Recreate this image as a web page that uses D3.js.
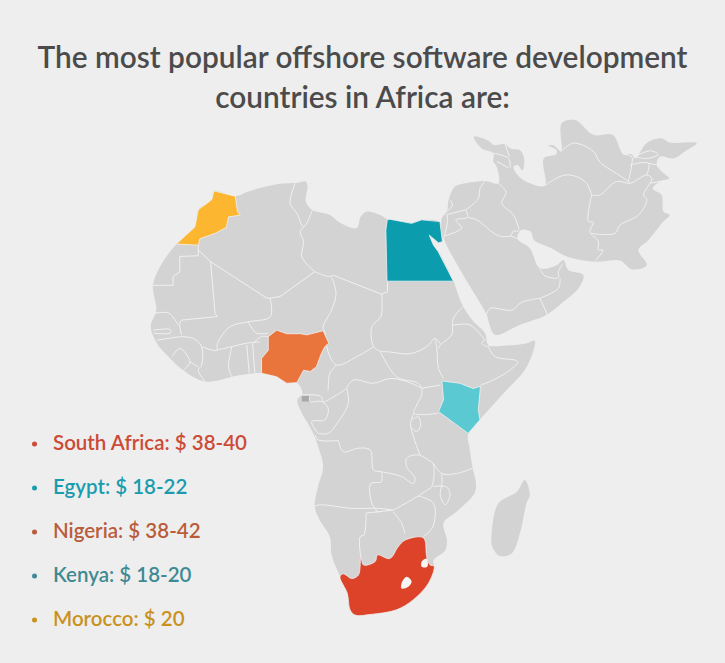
<!DOCTYPE html>
<html>
<head>
<meta charset="utf-8">
<script src="https://cdn.jsdelivr.net/npm/d3@7"></script>
<style>
html, body { margin: 0; padding: 0; background: #eeeeee; }
svg { display: block; }
</style>
</head>
<body>
<div id="chart"></div>
<script>
// outlines are [lon, lat]

const africaCoast = [[-5.9,37.1],[-2.1,36.2],[0.5,37.1],[5.9,38.3],[8.9,38.5],[10.5,38.7],[10.8,37.8],[10.5,35.3],[11.6,33.9],[14.8,33],[16.6,31.7],[19.6,30.8],[20.3,32.7],[21.4,33.6],[23.8,33],[25.2,32.2],[29.4,31.5],[31.2,32.1],[34.4,31.8],[34.8,28.5],[34.2,28.3],[32.55,29.6],[33.3,27.9],[34.15,26.8],[36.85,21.9],[37.7,19.5],[38.6,17.5],[40.4,15],[42.5,13],[43.1,11],[46.4,10.9],[50,11.3],[51.4,11.7],[51.1,9.9],[49.6,6.75],[46.4,3.4],[43.4,0.25],[41.6,-1.7],[39.5,-4.1],[39.8,-6.8],[40.3,-9.9],[40.9,-12.5],[40.6,-14.2],[37.4,-17.3],[35.1,-19.2],[35.7,-22.1],[35.4,-23.8],[33.3,-25.5],[33.4,-26.6],[32.4,-29.4],[29.7,-32.2],[26.7,-33.9],[21.96,-34.7],[19.3,-34.8],[18.4,-33.9],[17.9,-31.1],[16.6,-28.2],[15.1,-24.6],[14.8,-21.5],[13,-18.7],[12.1,-16.4],[12.7,-13],[13.6,-9.6],[12.7,-6.2],[11.85,-4],[9.5,0],[9,1.7],[9.9,2.8],[8.9,4.6],[7.1,4.5],[5.3,5.6],[2.6,6.2],[-1.2,5.9],[-7.5,4.8],[-11.4,6.7],[-14,9],[-16.1,11.3],[-17.2,14.1],[-16.2,16.9],[-16.8,21.1],[-15.5,24.3],[-12.6,28.1],[-9.3,31],[-8.7,33.9],[-6.3,35.6]];

const madagascarCoast = [[49.6,-11.9],[50.5,-14.4],[49.9,-15.85],[48.75,-20.9],[47.3,-24.3],[45.2,-24.8],[43.8,-23.2],[43.7,-20.9],[44.9,-15.85],[48.2,-13.9]];

const asiaCoast = [[35.1,29.2],[34.8,32.5],[35.7,33.6],[36,35.6],[36.85,37.5],[37.4,38],[42.5,38.8],[44.9,38.4],[44.6,41.2],[44,42.1],[44,43.5],[41.9,44.3],[40.5,46.3],[43.1,45.6],[44,44.9],[46.1,45],[47,44.3],[48.75,44],[49.5,42.6],[49.2,40.6],[48.3,41.5],[47.6,41.2],[48.3,39.8],[50.5,38.4],[53.2,38],[53,42.6],[55.2,43.3],[55.3,44],[53.8,44.8],[54.8,44.8],[56.1,43.8],[56.2,48.6],[58.6,49.1],[61.85,46.6],[65.3,46.6],[67.2,43.3],[68.7,43.3],[69.3,42.6],[71.4,45.2],[74.05,46],[75.5,45.3],[80.3,45.2],[78.2,43.8],[76.1,42.6],[73.75,42.9],[73.15,41.5],[74.05,40.4],[75.4,39.2],[73.75,38.7],[72.45,37.5],[74.05,36.4],[74.35,33.6],[75.5,33],[74.35,31.9],[71.7,28.8],[69.9,27.1],[71.4,24.5],[68.7,23.8],[66.6,25.3],[62.15,25.1],[57.1,26],[54.1,27.5],[51.25,28.8],[50.65,30.2],[49.05,30.5],[48.3,29],[50.5,27.4],[52.3,24],[55.3,24.5],[56.5,25.4],[57.4,23.7],[60.05,22.85],[59.2,20.6],[56.5,18.3],[53.5,16.1],[48.75,14.4],[44.3,12.7],[43.4,14.1],[42.8,16.1],[40.4,20],[37.6,24.5]];

// Sahara borders run straight, these are not smoothed
const straightBorders = [
  [[-8.7,27.9],[-8.7,26.1],[-12,26],[-12,23.4],[-13.2,22.6],[-13.2,21.1],[-16.8,21.1]],
  [[-8.7,27.1],[-6.5,25.1],[3.4,19],[4.1,18.9],[5.9,19.2],[12.1,23.4]],
  [[-6.5,25.1],[-5.7,16.3],[-5.3,15.8],[-11.7,15.2],[-12.1,14.5],[-11.7,12.7]],
  [[15.4,22.8],[24.05,19.6],[25.1,20],[25.1,21.7]]
];

const africaBorders = [
  [[-16.8,16.3],[-14,16.4],[-12.3,14.4]],
  [[-16.1,11.8],[-12,12.4]],
  [[-16.7,13.5],[-13.7,13.6],[-13.7,13],[-16.7,13]],
  [[-12,12.4],[-9.6,12.1],[-8.1,10.7],[-8.1,7.6],[-8.7,6.7],[-7.5,4.8]],
  [[-13.4,9],[-12,10.4],[-10.2,8.1],[-11.4,6.7]],
  [[-10.2,8.1],[-8.7,7.3]],
  [[-8.1,10.7],[-5.4,10.1],[-5.3,11.2],[-3,14.1],[0.2,14.9],[4.2,15.8],[4.1,18.9]],
  [[-5.4,10.1],[-2.7,10.7],[-0.05,11.3],[2.3,11.5]],
  [[0.2,14.9],[1.7,13],[3.8,13]],
  [[-2.7,10.7],[-3.3,7.3],[-2.7,5.6]],
  [[-0.05,11],[0.4,6.2]],
  [[1,11.2],[1.4,6.2]],
  [[1,11.2],[2.6,12.4],[3.8,12.4]],
  [[8.6,38.4],[7.7,35],[8.9,33.3],[10.1,31],[11.7,33.9]],
  [[10.1,31],[9.5,30.2],[10.1,28.5],[9.8,25.9],[12.1,23.4]],
  [[12.1,23.4],[14.5,22.6],[15.4,22.8]],
  [[15.1,22.6],[15.9,19.7],[15.1,16.9],[13.6,14.1],[13.9,13.2]],
  [[24.05,19.6],[23.9,15.8],[22.3,14.1],[22.6,10.7],[23.8,9.9]],
  [[13.9,13.2],[14.5,9.8],[16,7.6],[19.6,9],[22.6,10.7]],
  [[16,7.6],[14.8,6.2],[14.5,3.3]],
  [[23.8,9.9],[26.7,5.6],[30.6,4.5],[31.2,3.65]],
  [[23.8,9.9],[25.5,9.8],[29.1,9.5],[32.1,10.7],[33.6,12.1],[34.5,11.2]],
  [[33.6,12.1],[33.9,10.4],[34.2,7],[35.1,5.3]],
  [[38.6,17.5],[36.85,15.5],[36.55,12.7],[34.5,11],[34.2,10.4]],
  [[36.55,14.3],[39.8,14.4],[42.5,11.8]],
  [[42.5,11.8],[41.9,11.3],[43.1,10.7],[43.4,11.3]],
  [[43.1,10.7],[44.3,9],[48.3,8.2],[47,6.75],[43.4,4.8],[41.7,4.2]],
  [[31.2,3.65],[34.5,4.2]],
  [[31.2,3.65],[31.2,2.5],[30.3,0.8],[29.8,-0.6],[34.2,-0.6]],
  [[17.8,3.65],[19,5.05],[22.6,4.5],[25.5,5.3],[28.5,4.8],[31.2,3.65]],
  [[17.8,3.65],[18.1,1.1],[16.3,-2],[14.5,-4],[12.7,-4]],
  [[9.2,2.5],[13.2,2.3],[13.6,1.4],[16,2.5],[17.8,3.65]],
  [[11.25,2.5],[11.25,1.4],[13.3,1.4],[14.5,0.25],[13.9,-1.7],[11.55,-2],[12.7,-4]],
  [[12.15,-4.3],[12.7,-5.1],[16.3,-5.2]],
  [[16.3,-5.2],[17.2,-7.1],[19.9,-6.5],[22,-6.8],[22.6,-10.2],[24,-10.5],[27.6,-11.3],[29.7,-12.5],[30,-11.6],[28.5,-9.6],[28.5,-8.2],[30.6,-7.65],[33.3,-9.1]],
  [[29.8,-0.6],[29.2,-2.3],[29.8,-4.8],[30.9,-7.65]],
  [[29.4,-1.7],[30.6,-1.2],[31,-2.6],[30.3,-3.7],[29.4,-3]],
  [[33.3,-9.1],[34.8,-10.8],[37.4,-10.8],[40.3,-9.9]],
  [[24,-10.5],[24,-12.2],[22.1,-12.5],[22.3,-15.85],[23.5,-17.5]],
  [[12.1,-16.3],[13.3,-16.1],[18.7,-16.7],[23.5,-16.7],[26.1,-17]],
  [[26.1,-17],[28.8,-15.6],[30.6,-14.6],[33,-13.1]],
  [[33,-13.1],[33.4,-11.3],[33.3,-9.1]],
  [[34.8,-10.8],[34.8,-12.7],[34.5,-14.4],[35.4,-16.1],[36.25,-14.4],[35.65,-13.1],[33.3,-13]],
  [[30.6,-14.6],[33.3,-15.85],[33.2,-19.8],[31.5,-21.5]],
  [[26.1,-17.3],[27.6,-19.2],[28.2,-21]],
  [[21.25,-17.5],[26.1,-17]],
  [[21.25,-17.5],[20.9,-21.2],[20.2,-21.5],[20.35,-25.2]]
];

const asiaBorders = [
  [[42.5,38.8],[41.6,37.5],[41.3,35.8],[39.1,33.9]],
  [[39.1,33.9],[35.7,33.1]],
  [[36.25,35.6],[36.7,34.7],[35.7,33.6]],
  [[39.1,33.9],[39.35,32.6],[37.3,32.2],[38.3,30.8],[35.35,29.5]],
  [[35.7,33.1],[35.8,31.9],[35.2,29.3]],
  [[39.35,32.6],[41,32.2],[44.9,29.5],[47,29.5],[47.6,30.3],[48.6,30.2]],
  [[47,29.5],[48.3,29]],
  [[44.9,38.4],[46.25,36.9],[45.5,35],[47.6,33],[48.6,30.5]],
  [[42.8,16.2],[43.4,17.2],[47.3,16.9],[49,18.2],[52.3,18.9]],
  [[52.3,18.9],[55.6,20.6],[55.9,22.3]],
  [[52.3,23.9],[53.2,22.7],[55.6,22.4],[55.6,23.4],[56.4,24.8]],
  [[52.3,18.9],[53.65,16.1]],
  [[53.2,38],[54.8,39],[56.8,39.8],[58.9,39.5],[60.65,38.4],[61.55,36.4]],
  [[61.55,36.4],[60.95,31.9],[61.85,31.8],[61.25,30.2],[62.75,28.5],[62.75,27.1],[63.6,27.1],[62.15,25.2]],
  [[61.55,36.4],[63,36.4],[66,38.7],[68.4,38.4],[71.4,39.8],[72.3,39.2],[70.8,36.4],[71.4,35.6],[69.9,33],[66.6,31.3],[65.7,29.9],[61.4,29.9]],
  [[72,38.4],[75.4,39]],
  [[56.1,43.8],[58.3,45.2],[61.85,43.8],[63,42],[66.9,39.5],[68.4,38.5]],
  [[67.2,43.3],[68.7,42.9],[68.7,41.5],[68.1,38.7]],
  [[68.4,41.5],[71.7,41.8],[71.4,39.8]],
  [[71.7,41.8],[73.15,41.5]],
  [[69.3,42.9],[72,43.9],[73.45,43.3],[71.4,42.6],[69.3,42.9]],
  [[44,43.5],[46.7,42.6],[47,41]],
  [[44.6,42.1],[46.7,41]],
  [[46.1,45],[46.85,42.9]]
];

const morocco = [[-5.9,37.1],[-2.1,36.2],[-1.7,33.6],[-1.2,33],[-3.3,32.7],[-3.7,30.9],[-5.7,29.9],[-8.4,29],[-8.7,27.9],[-12.6,28.1],[-9.3,31],[-8.7,33.9],[-6.3,35.6]];
const egypt = [[24.8,30.5],[25.05,32.2],[25.5,32.3],[29.4,31.6],[31.2,32.2],[34.45,31.9],[34.9,28.5],[34.2,28.3],[32.55,29.6],[33.3,27.9],[34.15,26.8],[36.85,21.8],[25,21.8]];
const nigeria = [[2.6,6.2],[2.6,8.7],[3.8,10.1],[3.8,12.4],[5.3,13.5],[7.1,12.9],[9.5,12.9],[10.7,12.7],[13.6,13.4],[14.6,11.3],[13.9,10.7],[13.3,9.6],[12.4,7.3],[11.3,6.5],[10.1,6.7],[8.9,4.6],[7.1,4.5],[5.3,5.6]];
const kenya = [[34.8,4.9],[38,4.5],[40.4,3.6],[41.7,4],[41.3,0],[41.6,-1.7],[39.5,-4],[34.2,-0.3],[35.1,1.7]];
const southAfrica = [[16.6,-28.3],[17.2,-27.8],[18.7,-28.6],[19.9,-28],[20.35,-24.9],[20.8,-26.3],[22.9,-25.7],[23.3,-24.6],[25.5,-25.2],[27,-23.2],[28.2,-22.1],[31.5,-21.7],[32.1,-24.9],[32.7,-26.3],[33.4,-26.5],[32.4,-29.4],[29.7,-32.2],[26.7,-33.9],[21.96,-34.7],[19.3,-34.8],[18.4,-33.9],[17.9,-31.1]];
const lesotho = [[27.6,-29.4],[28.5,-28.3],[29.4,-29.1],[28.8,-30],[27.6,-30.3]];
const swaziland = [[31.2,-25.7],[32.1,-25.2],[32.2,-26.6],[31.2,-26.6]];
const equatorialGuinea = [[9.8,2.35],[11.25,2.35],[11.25,1.4],[9.8,1.4]];

const titleLines = ["The most popular offshore software development", "countries in Africa are:"];
const countries = ["South Africa", "Egypt", "Nigeria", "Kenya", "Morocco"];
const rates = ["$ 38-40", "$ 18-22", "$ 38-42", "$ 18-20", "$ 20"];

const mapFill = ["#dc4328", "#0b9cae", "#e9743c", "#5bc9d2", "#fdb62f"];
const textFill = ["#cc4a36", "#1b9cae", "#b95c3a", "#3f8a93", "#c9921f"];
const shapes = [southAfrica, egypt, nigeria, kenya, morocco];

const width = 725, height = 663;

// the map is close to a plain lon/lat grid, x and y just differ a bit
const x = d3.scaleLinear().domain([25, 35]).range([387, 443]);
const y = d3.scaleLinear().domain([22, 32]).range([280, 221]);

const straightLine = d3.line().x(d => x(d[0])).y(d => y(d[1]));
const straightClosed = d3.line().x(d => x(d[0])).y(d => y(d[1])).curve(d3.curveLinearClosed);
const smoothLine = d3.line().x(d => x(d[0])).y(d => y(d[1])).curve(d3.curveCatmullRom.alpha(0.5));
const smoothClosed = d3.line().x(d => x(d[0])).y(d => y(d[1])).curve(d3.curveCatmullRomClosed.alpha(0.5));

const svg = d3.select("#chart").append("svg")
    .attr("width", width)
    .attr("height", height);

svg.append("rect").attr("width", width).attr("height", height).attr("fill", "#eeeeee");

svg.append("g").selectAll("path")
    .data([africaCoast, madagascarCoast, asiaCoast])
    .join("path")
    .attr("d", smoothClosed)
    .attr("fill", "#d3d3d3");

svg.append("path")
    .attr("d", straightClosed(equatorialGuinea))
    .attr("fill", "#a9a9a9");

const borders = svg.append("g")
    .attr("fill", "none")
    .attr("stroke", "#f1f1f1")
    .attr("stroke-width", 1)
    .attr("stroke-linejoin", "round");

borders.selectAll("path.straight")
    .data(straightBorders)
    .join("path")
    .attr("class", "straight")
    .attr("d", straightLine);

borders.selectAll("path.smooth")
    .data(africaBorders.concat(asiaBorders))
    .join("path")
    .attr("class", "smooth")
    .attr("d", smoothLine);

// only South Africa has a soft enough outline to smooth
svg.append("g").selectAll("path")
    .data(shapes)
    .join("path")
    .attr("d", d => d === southAfrica ? smoothClosed(d) : straightClosed(d))
    .attr("fill", (d, i) => mapFill[i])
    .attr("stroke", "#f1f1f1")
    .attr("stroke-width", 0.8)
    .attr("stroke-linejoin", "round");

svg.append("g").selectAll("path")
    .data([lesotho, swaziland])
    .join("path")
    .attr("d", smoothClosed)
    .attr("fill", "#f6f6f6");

svg.append("g").selectAll("text")
    .data(titleLines)
    .join("text")
    .attr("x", 362.5)
    .attr("y", (d, i) => 68 + i * 40)
    .attr("text-anchor", "middle")
    .attr("font-family", "Lato, 'Open Sans', sans-serif")
    .attr("font-weight", 600)
    .attr("font-size", 29.8)
    .attr("fill", "#4b4b4b")
    .text(d => d);

const rowY = d3.scalePoint().domain(countries).range([450, 626]);

const rows = svg.append("g").selectAll("g")
    .data(countries)
    .join("g");

rows.append("circle")
    .attr("cx", 34.5)
    .attr("cy", d => rowY(d) - 6)
    .attr("r", 2.5)
    .attr("fill", (d, i) => textFill[i]);

rows.append("text")
    .attr("x", 53)
    .attr("y", d => rowY(d))
    .attr("font-family", "Lato, 'Open Sans', sans-serif")
    .attr("font-weight", 600)
    .attr("font-size", 20.5)
    .attr("fill", (d, i) => textFill[i])
    .text((d, i) => d + ": " + rates[i]);
</script>
</body>
</html>
